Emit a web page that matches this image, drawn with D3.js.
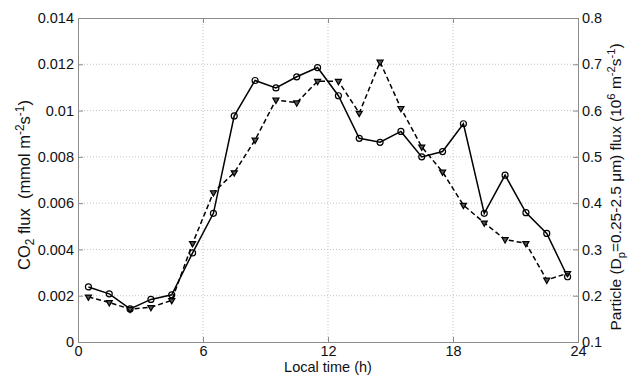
<!DOCTYPE html>
<html>
<head>
<meta charset="utf-8">
<script src="https://cdnjs.cloudflare.com/ajax/libs/d3/7.8.5/d3.min.js"></script>
<style>
  html, body { margin: 0; padding: 0; background: #fff; }
  svg { display: block; font-family: "Liberation Sans", Arial, sans-serif; }
</style>
</head>
<body>
<svg id="chart" width="629" height="376"></svg>
<script>
// ---- data ----
const hours = [0.5, 1.5, 2.5, 3.5, 4.5, 5.5, 6.5, 7.5, 8.5, 9.5, 10.5, 11.5,
               12.5, 13.5, 14.5, 15.5, 16.5, 17.5, 18.5, 19.5, 20.5, 21.5, 22.5, 23.5];
const co2Flux = [0.00238, 0.00208, 0.00143, 0.00184, 0.00204, 0.00385, 0.00556, 0.00977,
                 0.01130, 0.01098, 0.01146, 0.01186, 0.01064, 0.00880, 0.00863, 0.00910,
                 0.00800, 0.00823, 0.00943, 0.00556, 0.00721, 0.00559, 0.00469, 0.00282];
const particleFlux = [0.1975, 0.1855, 0.171, 0.175, 0.19, 0.313, 0.423, 0.466,
                      0.5365, 0.623, 0.617, 0.6635, 0.6635, 0.5945, 0.705, 0.605,
                      0.5215, 0.4675, 0.3957, 0.3575, 0.3215, 0.313, 0.234, 0.2485];
const xTicks = [0, 6, 12, 18, 24];
const leftTicks = [0, 0.002, 0.004, 0.006, 0.008, 0.01, 0.012, 0.014];
const leftTickLabels = ["0", "0.002", "0.004", "0.006", "0.008", "0.01", "0.012", "0.014"];
const rightTicks = [0.1, 0.2, 0.3, 0.4, 0.5, 0.6, 0.7, 0.8];
const rightTickLabels = ["0.1", "0.2", "0.3", "0.4", "0.5", "0.6", "0.7", "0.8"];

// ---- layout ----
const W = 629, H = 376;
const m = { left: 78, right: 51, top: 18, bottom: 34 };
const pw = W - m.left - m.right, ph = H - m.top - m.bottom;
const fs = 14.5;
const axisColor = "#8c8c8c";
const textColor = "#111";

const svg = d3.select("#chart");
const g = svg.append("g").attr("transform", `translate(${m.left},${m.top})`);

const x = d3.scaleLinear().domain([0, 24]).range([0, pw]);
const yL = d3.scaleLinear().domain([0, 0.014]).range([ph, 0]);
const yR = d3.scaleLinear().domain([0.1, 0.8]).range([ph, 0]);

// grid
const grid = g.append("g");
grid.selectAll("line.v").data(xTicks.slice(1, -1)).join("line")
  .attr("x1", d => x(d)).attr("x2", d => x(d)).attr("y1", 0).attr("y2", ph)
  .attr("stroke", "#c4c4c4").attr("stroke-width", 1).attr("stroke-dasharray", "1,2");
grid.selectAll("line.h").data(leftTicks.slice(1, -1)).join("line")
  .attr("x1", 0).attr("x2", pw).attr("y1", d => yL(d)).attr("y2", d => yL(d))
  .attr("stroke", "#c4c4c4").attr("stroke-width", 1).attr("stroke-dasharray", "1,2");

// axes
const xAxis = d3.axisBottom(x).tickValues(xTicks).tickSize(-5).tickPadding(4).tickFormat(d3.format("d"));
const xTop = d3.axisTop(x).tickValues(xTicks).tickSize(-5).tickFormat("");
const lAxis = d3.axisLeft(yL).tickValues(leftTicks).tickSize(-5).tickPadding(4)
  .tickFormat((d, i) => leftTickLabels[i]);
const rAxis = d3.axisRight(yR).tickValues(rightTicks).tickSize(-5).tickPadding(4)
  .tickFormat((d, i) => rightTickLabels[i]);

function styleAxis(sel) {
  sel.select(".domain").attr("stroke", axisColor).attr("stroke-width", 1);
  sel.selectAll(".tick line").attr("stroke", axisColor);
  sel.selectAll(".tick text").attr("fill", textColor).style("font-size", fs + "px")
    .style("font-family", '"Liberation Sans", Arial, sans-serif');
}
g.append("g").attr("transform", `translate(0,${ph})`).call(xAxis).call(styleAxis);
g.append("g").call(xTop).call(styleAxis);
g.append("g").call(lAxis).call(styleAxis);
g.append("g").attr("transform", `translate(${pw},0)`).call(rAxis).call(styleAxis);

// lines
const lineL = d3.line().x((d, i) => x(hours[i])).y(d => yL(d));
const lineR = d3.line().x((d, i) => x(hours[i])).y(d => yR(d));

g.append("path").datum(particleFlux).attr("d", lineR)
  .attr("fill", "none").attr("stroke", "#000").attr("stroke-width", 1.5)
  .attr("stroke-dasharray", "5,3");
g.append("path").datum(co2Flux).attr("d", lineL)
  .attr("fill", "none").attr("stroke", "#000").attr("stroke-width", 1.5);

// markers
const tri = d3.symbol().type(d3.symbolTriangle).size(16);
g.selectAll("path.tri").data(particleFlux).join("path")
  .attr("d", tri)
  .attr("transform", (d, i) => `translate(${x(hours[i])},${yR(d)}) rotate(180)`)
  .attr("fill", "#555").attr("stroke", "#000").attr("stroke-width", 1.2);
g.selectAll("circle.c").data(co2Flux).join("circle")
  .attr("cx", (d, i) => x(hours[i])).attr("cy", d => yL(d)).attr("r", 3)
  .attr("fill", "none").attr("stroke", "#000").attr("stroke-width", 1.2);

// axis titles
svg.append("text").attr("x", m.left + pw / 2).attr("y", 372)
  .attr("text-anchor", "middle").attr("fill", textColor).style("font-size", fs + "px")
  .text("Local time (h)");

const sub = 0.72;
const lfs = 16.5;
const lt = svg.append("text")
  .attr("transform", "translate(30,185) rotate(-90)")
  .attr("text-anchor", "middle").attr("fill", textColor).style("font-size", lfs + "px");
lt.append("tspan").text("CO");
lt.append("tspan").attr("dy", 4).style("font-size", (lfs * sub) + "px").text("2");
lt.append("tspan").attr("dy", -4).text("\u00a0flux\u00a0\u00a0(mmol m");
lt.append("tspan").attr("dy", -6).style("font-size", (lfs * sub) + "px").text("-2");
lt.append("tspan").attr("dy", 6).text("s");
lt.append("tspan").attr("dy", -6).style("font-size", (lfs * sub) + "px").text("-1");
lt.append("tspan").attr("dy", 6).text(")");

const rfs = 15.5;
const rt = svg.append("text")
  .attr("transform", "translate(621,187) rotate(-90)")
  .attr("text-anchor", "middle").attr("fill", textColor).style("font-size", rfs + "px");
rt.append("tspan").text("Particle (D");
rt.append("tspan").attr("dy", 4).style("font-size", (rfs * sub) + "px").text("p");
rt.append("tspan").attr("dy", -4).text("=0.25-2.5 \u03bcm) flux (10");
rt.append("tspan").attr("dy", -6).style("font-size", (rfs * sub) + "px").text("6");
rt.append("tspan").attr("dy", 6).text(" m");
rt.append("tspan").attr("dy", -6).style("font-size", (rfs * sub) + "px").text("-2");
rt.append("tspan").attr("dy", 6).text("s");
rt.append("tspan").attr("dy", -6).style("font-size", (rfs * sub) + "px").text("-1");
rt.append("tspan").attr("dy", 6).text(")");
</script>
</body>
</html>
